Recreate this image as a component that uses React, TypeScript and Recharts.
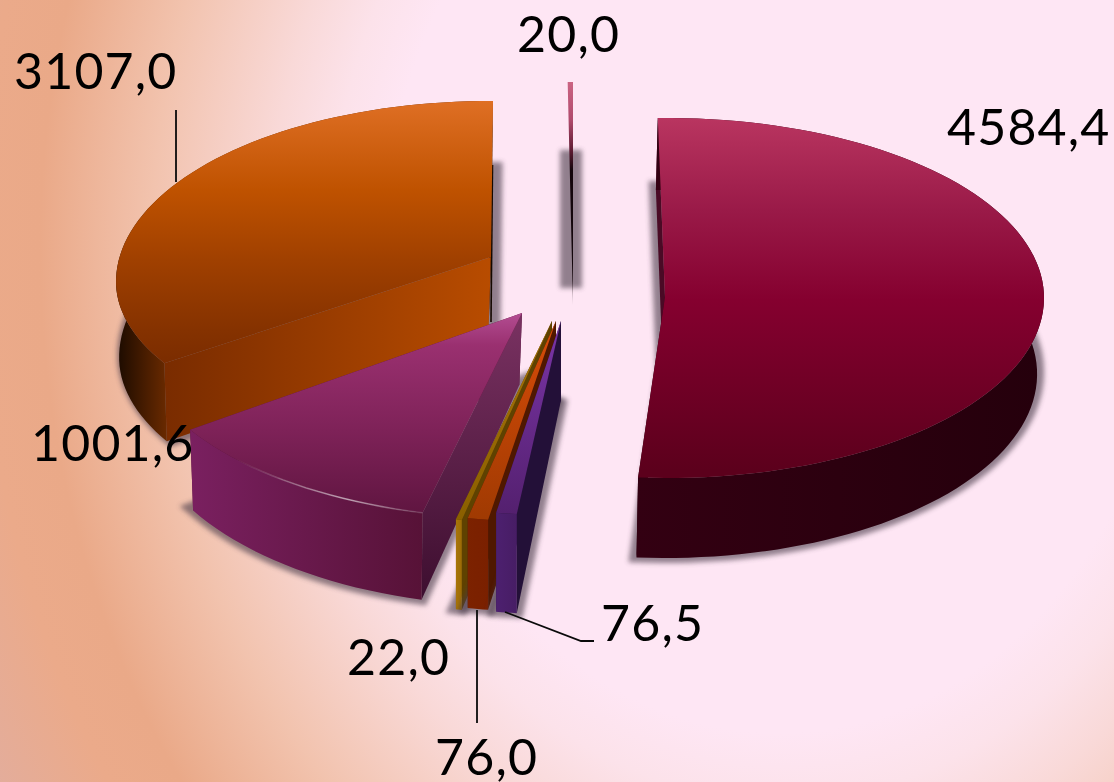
import React from 'react';
import { PieChart, Pie } from 'recharts';

// Data: painted back to front, counter-clockwise from 12 o'clock
const sliceNames = ['sliver', 'orange', 'magenta', 'gold', 'rust', 'violet', 'crimson'];
const sliceValues = [20.0, 3107.0, 1001.6, 22.0, 76.0, 76.5, 4584.4];

type Stop = [number, string];
type Geo = {
  ex: number; ey: number; rx: number; ry: number; ryNear?: number; vx: number; vy: number;
  fixS: number; fixE: number;
  y0: number; d0: number; y1: number; d1: number;
  bs: number; dx: number; sx?: number;
  top: Stop[]; wall: Stop[]; wallX: [number, number];
  low: string; high: string; noWalls?: boolean; highlight?: boolean; edge?: string;
};

const geometry: Record<string, Geo> = {
  sliver: {
    ex: 573, ey: 265, rx: 377, ry: 183, vx: 573, vy: 305, fixS: 0, fixE: 0,
    y0: 82, d0: 70, y1: 305, d1: -18, bs: 1, dx: 0,
    top: [[82, '#cb6483'], [120, '#b04a6c'], [150, '#601c34'], [170, '#14060c'], [280, '#14060c'], [305, '#a09098']],
    wall: [[0, '#000'], [1, '#000']], wallX: [560, 580], low: '#000', high: '#000', noWalls: true,
  },
  orange: {
    ex: 490, ey: 282, rx: 374, ry: 181, ryNear: 165, vx: 491, vy: 257, fixS: 7.2, fixE: 1.27,
    y0: 101, d0: 70, y1: 362, d1: 78, bs: 0.985, dx: -2.5, sx: 5,
    top: [[101, '#df6f24'], [190, '#bf5200'], [260, '#a04000'], [330, '#853200'], [365, '#7a2c00']],
    wall: [[0, '#1a0a00'], [1, '#6a2a00']], wallX: [116, 167],
    low: 'url(#face-orange)', high: '#140800', edge: '492.5,165 491,322',
  },
  magenta: {
    ex: 522, ey: 338, rx: 385, ry: 181, vx: 522, vy: 313, fixS: 2.2, fixE: 6.2,
    y0: 313, d0: 72, y1: 513, d1: 87, bs: 0.983, dx: -2.7,
    top: [[313, '#b34d92'], [345, '#9a3070'], [430, '#7e2258'], [515, '#5f1540']],
    wall: [[0, '#7a2060'], [1, '#571237']], wallX: [190, 422],
    low: 'url(#face-magenta)', high: '#571237', highlight: true,
  },
  gold: {
    ex: 541, ey: 334, rx: 385, ry: 190, vx: 552, vy: 321, fixS: 0, fixE: 0,
    y0: 321, d0: 78, y1: 520, d1: 90, bs: 1, dx: 0,
    top: [[321, '#a87408'], [520, '#8a5f00']],
    wall: [[0, '#a87408'], [1, '#9a6a06']], wallX: [456, 463],
    low: '#5f4200', high: '#5f4200',
  },
  rust: {
    ex: 547, ey: 332, rx: 385, ry: 190, vx: 556, vy: 321, fixS: 0, fixE: 0,
    y0: 321, d0: 78, y1: 518, d1: 90, bs: 1, dx: 0,
    top: [[321, '#d84c08'], [518, '#a03a02']],
    wall: [[0, '#7c2200'], [1, '#7a2000']], wallX: [467, 488],
    low: '#4f1800', high: '#4f1800',
  },
  violet: {
    ex: 555, ey: 325, rx: 385, ry: 190, vx: 561, vy: 321, fixS: 0, fixE: 0,
    y0: 321, d0: 79, y1: 513, d1: 99, bs: 1, dx: 0,
    top: [[321, '#7b35a8'], [513, '#54206f']],
    wall: [[0, '#4d2070'], [1, '#471d64']], wallX: [495, 518],
    low: '#231038', high: '#231038',
  },
  crimson: {
    ex: 667, ey: 298, rx: 377, ry: 180, vx: 665, vy: 297, fixS: -1.4, fixE: -1.3,
    y0: 118, d0: 72, y1: 478, d1: 80, bs: 0.987, dx: -2,
    top: [[118, '#b93560'], [210, '#9a1a48'], [300, '#85002f'], [470, '#5c001c']],
    wall: [[0, '#330012'], [1, '#25000c']], wallX: [636, 1040],
    low: '#4a0a25', high: '#2a000e',
  },
};

type Note = { x: number; y: number; line?: string };
const notes: Record<string, Note> = {
  sliver: { x: 517, y: 52 },
  orange: { x: 14, y: 89, line: '176,110 176,182' },
  magenta: { x: 31, y: 461 },
  gold: { x: 347, y: 675 },
  rust: { x: 435, y: 775, line: '477,610 477,723' },
  violet: { x: 601, y: 641, line: '505,612 581,641 594,641' },
  crimson: { x: 947, y: 145 },
};

const chartData = sliceNames.map((name, i) => ({ name, value: sliceValues[i] }));
const fmt = (v: number) => v.toFixed(1).replace('.', ',');
const RAD = Math.PI / 180;
const P = (pts: number[][], close = true) =>
  pts.map((p, i) => `${i ? 'L' : 'M'}${p[0].toFixed(2)} ${p[1].toFixed(2)}`).join(' ') + (close ? ' Z' : '');

function Slice(props: any) {
  const name: string = props.payload?.name ?? props.name;
  const g = geometry[name];
  const span = props.endAngle - props.startAngle;
  const lo = (((90 - props.endAngle) % 360) + 360) % 360;
  const N = Math.max(4, Math.ceil(span / 2));
  const arc: number[][] = [];
  for (let i = 0; i <= N; i++) {
    const t = i / N;
    const th = (lo + span * t + g.fixS + (g.fixE - g.fixS) * t) * RAD;
    const c = Math.cos(th);
    const r = c < 0 ? g.ryNear ?? g.ry : g.ry;
    arc.push([g.ex + g.rx * Math.sin(th), g.ey - r * c]);
  }
  const V = [g.vx, g.vy];
  const lerp = (y: number, a: number, b: number) => a + ((b - a) * (y - g.y0)) / (g.y1 - g.y0);
  const down = (p: number[]) => [g.ex + (p[0] - g.ex) * g.bs + g.dx, p[1] + lerp(p[1], g.d0, g.d1)];
  const shadowDown = (p: number[]) => {
    const q = down(p);
    return [q[0] + (g.sx ?? 0), q[1] - 2];
  };
  const A0 = arc[0];
  const A1 = arc[arc.length - 1];
  const lowFace = <path d={P([V, A0, down(A0), down(V)])} fill={g.low} />;
  const highFace = <path d={P([V, A1, down(A1), down(V)])} fill={g.high} />;
  const wallPts = [...arc, ...arc.slice().reverse().map(down)];
  const topId = `top-${name}`;
  const wallId = `wall-${name}`;
  const ys = g.top.map((s) => s[0]);
  const y1 = ys[0];
  const y2 = ys[ys.length - 1];
  return (
    <g>
      <defs>
        <filter id={`blur-${name}`} filterUnits="userSpaceOnUse" x="0" y="0" width="1114" height="782">
          <feGaussianBlur stdDeviation="2.5" />
        </filter>
        <linearGradient id={topId} gradientUnits="userSpaceOnUse" x1="0" y1={y1} x2="0" y2={y2}>
          {g.top.map((s, i) => (
            <stop key={i} offset={(s[0] - y1) / (y2 - y1)} stopColor={s[1]} />
          ))}
        </linearGradient>
        <linearGradient id={wallId} gradientUnits="userSpaceOnUse" x1={g.wallX[0]} y1="0" x2={g.wallX[1]} y2="0">
          {g.wall.map((s, i) => (
            <stop key={i} offset={s[0]} stopColor={s[1]} />
          ))}
        </linearGradient>
        <linearGradient id="face-orange" gradientUnits="userSpaceOnUse" x1="167" y1="0" x2="490" y2="0">
          <stop offset="0" stopColor="#7a2c00" />
          <stop offset="1" stopColor="#b84c00" />
        </linearGradient>
        <linearGradient id="face-magenta" gradientUnits="userSpaceOnUse" x1="0" y1="313" x2="0" y2="600">
          <stop offset="0" stopColor="#7a3262" />
          <stop offset="1" stopColor="#3d0e2f" />
        </linearGradient>
        <linearGradient id="shine" gradientUnits="userSpaceOnUse" x1="235" y1="0" x2="422" y2="0">
          <stop offset="0" stopColor="#fff" stopOpacity="0" />
          <stop offset="0.6" stopColor="#fff" stopOpacity="0.55" />
          <stop offset="1" stopColor="#fff" stopOpacity="0.1" />
        </linearGradient>
      </defs>
      <path
        d={P(g.noWalls
          ? [[567, 157], [575, 157], [575, 281], [567, 281]]
          : [shadowDown(V), ...arc.map(shadowDown)])}
        fill="#4a3a48"
        stroke="#4a3a48"
        strokeWidth={14}
        strokeLinejoin="miter"
        opacity={0.6}
        filter={`url(#blur-${name})`}
      />
      {!g.noWalls && (
        <>
          {A0[1] < A1[1] ? lowFace : highFace}
          {A0[1] < A1[1] ? highFace : lowFace}
          <path d={P(wallPts)} fill={`url(#${wallId})`} />
        </>
      )}
      {g.edge && <polyline points={g.edge} fill="none" stroke="#140800" strokeWidth={1.6} />}
      <path d={P([V, ...arc])} fill={`url(#${topId})`} />
      {g.highlight && <path d={P(arc, false)} fill="none" stroke="url(#shine)" strokeWidth={1.6} />}
    </g>
  );
}

function Label(props: any) {
  const name: string = props.payload?.name ?? props.name;
  const n = notes[name];
  return (
    <g>
      {n.line && <polyline points={n.line} fill="none" stroke="#0a0a0a" strokeWidth={1.8} />}
      <text
        x={n.x}
        y={n.y}
        fontFamily="Lato"
        fontSize={50}
        letterSpacing={1.2}
        fill="#000"
        textAnchor="start"
      >
        {fmt(props.value)}
      </text>
    </g>
  );
}

export default function App() {
  return (
    <div
      style={{
        position: 'absolute',
        left: 0,
        top: 0,
        width: 1114,
        height: 782,
        overflow: 'hidden',
        background:
          'radial-gradient(ellipse 900px 1100px at 780px 250px, #fee6f4 0px, #fee6f4 395px, #fce2ea 450px, #f9d9d8 510px, #f2c3ae 628px, #eaa988 740px, #ebaa8a 800px, #e3ad9c 900px)',
      }}
    >
      <PieChart width={1114} height={782} margin={{ top: 0, right: 0, bottom: 0, left: 0 }}>
        <Pie
          data={chartData}
          dataKey="value"
          nameKey="name"
          cx={557}
          cy={391}
          outerRadius={300}
          startAngle={90}
          endAngle={450}
          stroke="none"
          isAnimationActive={false}
          shape={Slice}
          label={Label}
          labelLine={false}
        />
      </PieChart>
    </div>
  );
}
